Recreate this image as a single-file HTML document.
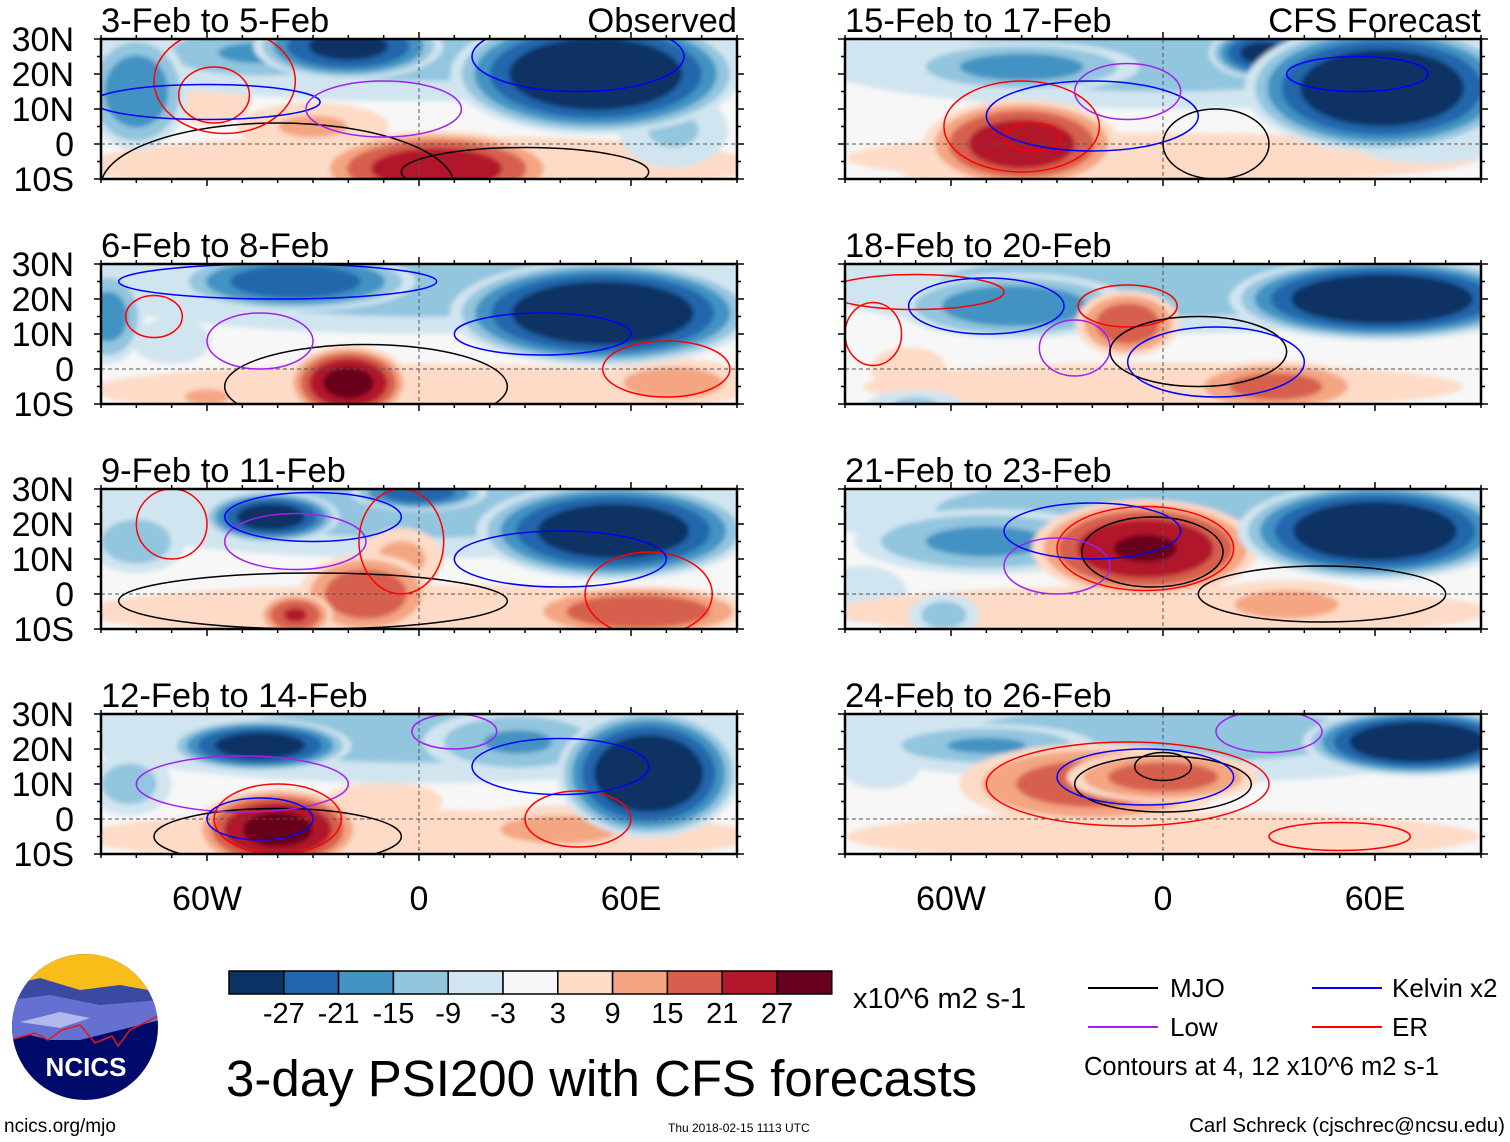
<!DOCTYPE html>
<html><head><meta charset="utf-8">
<style>
body{margin:0;background:#fff;width:1510px;height:1142px;overflow:hidden;font-family:"Liberation Sans",sans-serif;}
svg{position:absolute;left:0;top:0}
</style></head>
<body>
<svg id="chart" width="1510" height="1142" viewBox="0 0 1510 1142" xmlns="http://www.w3.org/2000/svg">
<defs>
<filter id="bl" x="-30%" y="-30%" width="160%" height="160%"><feGaussianBlur stdDeviation="2.5"/></filter>
</defs>
<g id="panels"></g>
<g id="bottom">
  <g>
    <clipPath id="lc"><circle cx="85" cy="1027" r="73"/></clipPath>
    <g clip-path="url(#lc)">
      <rect x="10" y="950" width="150" height="160" fill="#000a6a"/>
      <rect x="10" y="950" width="150" height="40" fill="#f9bd1a"/>
      <path d="M10 985 L40 978 L80 990 L120 985 L160 992 L160 1020 L10 1025Z" fill="#3a4aa0"/>
      <path d="M10 1000 L50 995 L100 1005 L160 1000 L160 1020 L120 1030 L80 1040 L50 1040 L30 1035 L10 1040Z" fill="#6670d0"/>
      <path d="M20 1022 L60 1012 L90 1018 L60 1028Z" fill="#b0b8ee"/>
      <path d="M10 1040 L35 1033 L48 1040 L62 1030 L80 1025 L95 1043 L112 1036 L118 1046 L130 1030 L160 1015" fill="none" stroke="#e01818" stroke-width="1.5"/>
    </g>
    <text x="86" y="1076" font-size="26" font-weight="bold" fill="#fff" text-anchor="middle">NCICS</text>
  </g>
  <text x="4" y="1132" font-size="19">ncics.org/mjo</text>
  <g id="cbar"></g>
  <text x="853" y="1008" font-size="29">x10^6 m2 s-1</text>
  <text x="226" y="1096" font-size="51">3-day PSI200 with CFS forecasts</text>
  <text x="668" y="1132" font-size="12">Thu 2018-02-15 1113 UTC</text>
  <text x="1505" y="1132" font-size="20.5" text-anchor="end">Carl Schreck (cjschrec@ncsu.edu)</text>
  <g>
    <line x1="1088" y1="988" x2="1158" y2="988" stroke="#000" stroke-width="2"/>
    <text x="1170" y="997" font-size="26">MJO</text>
    <line x1="1312" y1="988" x2="1382" y2="988" stroke="#0000ff" stroke-width="2"/>
    <text x="1392" y="997" font-size="26">Kelvin x2</text>
    <line x1="1088" y1="1027" x2="1158" y2="1027" stroke="#a020f0" stroke-width="2"/>
    <text x="1170" y="1036" font-size="26">Low</text>
    <line x1="1312" y1="1027" x2="1382" y2="1027" stroke="#ff0000" stroke-width="2"/>
    <text x="1392" y="1036" font-size="26">ER</text>
    <text x="1084" y="1075" font-size="25.5">Contours at 4, 12 x10^6 m2 s-1</text>
  </g>
</g>
</svg>
<script>
const NS="http://www.w3.org/2000/svg";
const panelTitles=["3-Feb to 5-Feb","15-Feb to 17-Feb","6-Feb to 8-Feb","18-Feb to 20-Feb","9-Feb to 11-Feb","21-Feb to 23-Feb","12-Feb to 14-Feb","24-Feb to 26-Feb"];
const panelTags=["Observed","CFS Forecast","","","","","",""];
const latTicks=[30,20,10,0,-10];
const latLabels=["30N","20N","10N","0","10S"];
const lonTicks=[-60,0,60];
const lonLabels=["60W","0","60E"];
const cbLevels=[-27,-21,-15,-9,-3,3,9,15,21,27];
const cbColors=["#0a3264","#2166ac","#4393c3","#92c5de","#d1e5f0","#f7f7f7","#fddbc7","#f4a582","#d6604d","#b2182b","#67001f"];
// blobs: [lon, lat, rxDeg, ryDeg, value]
const blobs=[
 [[0,26,100,14,-11],[0,-6,100,9,9],[50,20,38,16,-36],[-20,28,25,9,-30],[-80,15,14,16,-20],[-45,26,32,8,-16],[5,-7,32,10,26],[-30,5,22,7,10],[-60,12,14,7,7],[72,4,16,11,-10],[-60,-7,24,5,8]],
 [[0,24,100,14,-12],[0,-4,100,8,7],[62,16,36,17,-36],[28,26,14,7,-30],[-40,22,32,7,-18],[-40,0,26,12,26],[-65,-5,12,6,9],[75,0,22,6,-8]],
 [[0,24,100,14,-12],[0,-6,100,8,8],[52,16,40,14,-36],[-35,25,32,8,-26],[-88,15,10,13,-18],[-20,-4,16,10,30],[-60,-8,14,5,10],[72,-4,22,7,12],[-70,8,12,7,-8]],
 [[0,24,100,14,-12],[0,-5,100,8,6],[62,20,40,11,-36],[-42,18,32,9,-20],[-10,13,14,9,20],[32,-5,24,7,18],[-72,0,12,7,7],[-70,-10,14,4,-10]],
 [[0,24,100,14,-11],[0,-5,100,8,9],[-42,22,18,7,-32],[55,18,36,13,-34],[0,29,18,5,-26],[-15,0,18,11,20],[-35,-6,10,6,22],[62,-5,30,7,21],[-5,10,12,9,11],[-80,15,14,9,-13]],
 [[0,24,100,14,-12],[0,-5,100,8,8],[60,18,36,13,-36],[-50,15,36,9,-17],[-62,-6,10,6,-12],[-5,13,30,13,28],[35,-3,26,7,11],[-85,0,14,9,-7]],
 [[0,24,100,14,-11],[0,-5,100,8,9],[-45,21,24,7,-32],[65,13,24,17,-36],[28,22,26,9,-16],[-82,10,12,9,-12],[-40,-3,22,11,30],[40,-3,30,7,11],[-10,5,18,6,8]],
 [[0,24,100,14,-11],[0,-5,100,8,7],[72,22,30,9,-36],[-50,21,30,6,-16],[-20,10,36,11,19],[0,12,26,7,19],[20,-5,36,7,9],[-80,15,12,7,-8]]
];
// contours: [type, lon, lat, rxDeg, ryDeg]  type: m=MJO l=Low k=Kelvin e=ER
const contours=[
 [["m",-40,-12,50,18],["e",-55,18,20,15],["e",-58,14,10,8],["k",-60,12,32,5],["l",-10,10,22,8],["k",45,25,30,10],["m",30,-8,35,7]],
 [["e",-40,5,22,13],["e",-37,2,8,4],["k",-20,8,30,10],["l",-10,15,15,8],["k",55,20,20,5],["m",15,0,15,10]],
 [["m",-15,-5,40,12],["e",-75,15,8,6],["l",-45,8,15,8],["k",-40,25,45,5],["e",70,0,18,8],["k",35,10,25,6]],
 [["e",-70,22,25,5],["e",-82,10,8,9],["k",-50,18,22,8],["l",-25,6,10,8],["e",-10,18,14,6],["m",10,5,25,10],["k",15,2,25,10]],
 [["m",-30,-2,55,8],["e",-70,20,10,10],["l",-35,15,20,8],["k",-30,22,25,7],["e",-5,15,12,15],["e",65,0,18,12],["k",40,10,30,8]],
 [["e",-5,13,25,12],["m",-3,12,20,10],["l",-30,8,15,8],["k",-20,18,25,8],["m",45,0,35,8]],
 [["m",-40,-5,35,8],["l",-50,10,30,8],["e",-40,0,18,10],["k",-45,0,15,6],["e",45,0,15,8],["l",10,25,12,5],["k",40,15,25,8]],
 [["e",-10,10,40,12],["m",0,10,25,8],["m",0,15,8,4],["k",-5,12,25,8],["l",30,25,15,6],["e",50,-5,20,4]]
];
const ccol={m:"#000",l:"#a020f0",k:"#0000ff",e:"#ff0000"};
const boxes=[[101,39],[845,39],[101,264],[845,264],[101,489],[845,489],[101,714],[845,714]];
const W=636,H=140;
function colorFor(v){let i=0;while(i<cbLevels.length&&v>cbLevels[i])i++;return cbColors[i];}
function mk(t,a,p){const e=document.createElementNS(NS,t);for(const k in a)e.setAttribute(k,a[k]);if(p)p.appendChild(e);return e;}
const root=document.getElementById("panels");
boxes.forEach((b,pi)=>{
  const x0=b[0],y0=b[1];
  const xs=lon=>x0+(lon+90)/180*W;
  const ys=lat=>y0+(30-lat)/40*H;
  const g=mk("g",{},root);
  
  
  const cid="c"+pi;
  const cp=mk("clipPath",{id:cid},g);mk("rect",{x:x0,y:y0,width:W,height:H},cp);
  const inner=mk("g",{"clip-path":"url(#"+cid+")"},g);
  mk("rect",{x:x0,y:y0,width:W,height:H,fill:"#f7f7f7"},inner);
  const fg=mk("g",{filter:"url(#bl)"},inner);
  const thr=[3,9,15,21,27];
  const sorted=blobs[pi].slice().sort((a,b)=>Math.abs(a[4])-Math.abs(b[4]));
  sorted.forEach(bl=>{
    const v=bl[4],s=Math.sign(v),a=Math.abs(v);
    thr.forEach(t=>{
      if(t>=a)return;
      const f=Math.pow(1-t/a,0.4)*1.12;
      const e=mk("ellipse",{cx:xs(bl[0]),cy:ys(bl[1]),rx:bl[2]*W/180*f,ry:bl[3]*H/40*f,fill:colorFor(s*(t+0.1))},fg);
      
      
    });
  });
  mk("line",{x1:x0,y1:ys(0),x2:x0+W,y2:ys(0),stroke:"#555","stroke-dasharray":"4,3","stroke-width":1},inner);
  mk("line",{x1:xs(0),y1:y0,x2:xs(0),y2:y0+H,stroke:"#555","stroke-dasharray":"4,3","stroke-width":1},inner);
  contours[pi].forEach(c=>{
    const e=mk("ellipse",{cx:xs(c[1]),cy:ys(c[2]),rx:c[3]*W/180,ry:c[4]*H/40,fill:"none",stroke:ccol[c[0]],"stroke-width":1.5},inner);
    
    
  });
  mk("rect",{x:x0,y:y0,width:W,height:H,fill:"none",stroke:"#000","stroke-width":2.5},g);
  for(let lon=-90;lon<=90;lon+=10){
    const L=lonTicks.includes(lon)?7:4;
    mk("line",{x1:xs(lon),y1:y0,x2:xs(lon),y2:y0-L,stroke:"#000","stroke-width":1.5},g);
    mk("line",{x1:xs(lon),y1:y0+H,x2:xs(lon),y2:y0+H+L,stroke:"#000","stroke-width":1.5},g);
  }
  for(let lat=-10;lat<=30;lat+=5){
    const L=lat%10===0?7:4;
    mk("line",{x1:x0,y1:ys(lat),x2:x0-L,y2:ys(lat),stroke:"#000","stroke-width":1.5},g);
    mk("line",{x1:x0+W,y1:ys(lat),x2:x0+W+L,y2:ys(lat),stroke:"#000","stroke-width":1.5},g);
  }
  const t=mk("text",{x:x0,y:y0-7,"font-size":34.5},g);t.textContent=panelTitles[pi];
  
  
  if(panelTags[pi]){const tg=mk("text",{x:x0+W,y:y0-7,"font-size":34.5,"text-anchor":"end"},g);tg.textContent=panelTags[pi];
    
    }
  if(pi%2===0){latTicks.forEach((lt,i)=>{const tx=mk("text",{x:74,y:ys(lt)+12,"font-size":34,"text-anchor":"end"},g);tx.textContent=latLabels[i];
    
    });}
  if(pi>=6){lonTicks.forEach((ln,i)=>{const tx=mk("text",{x:xs(ln),y:910,"font-size":34,"text-anchor":"middle"},g);tx.textContent=lonLabels[i];
    
    });}
});
const cb=document.getElementById("cbar");
const cbx=229,cbw=54.8;
cbColors.forEach((c,i)=>{const r=mk("rect",{x:cbx+i*cbw,y:971,width:cbw,height:23,fill:c,stroke:"#000","stroke-width":1.5},cb);
  
  });
cbLevels.forEach((v,i)=>{const t=mk("text",{x:cbx+(i+1)*cbw,y:1023,"font-size":29,"text-anchor":"middle"},cb);t.textContent=v;
  
  });
</script>
</body></html>
